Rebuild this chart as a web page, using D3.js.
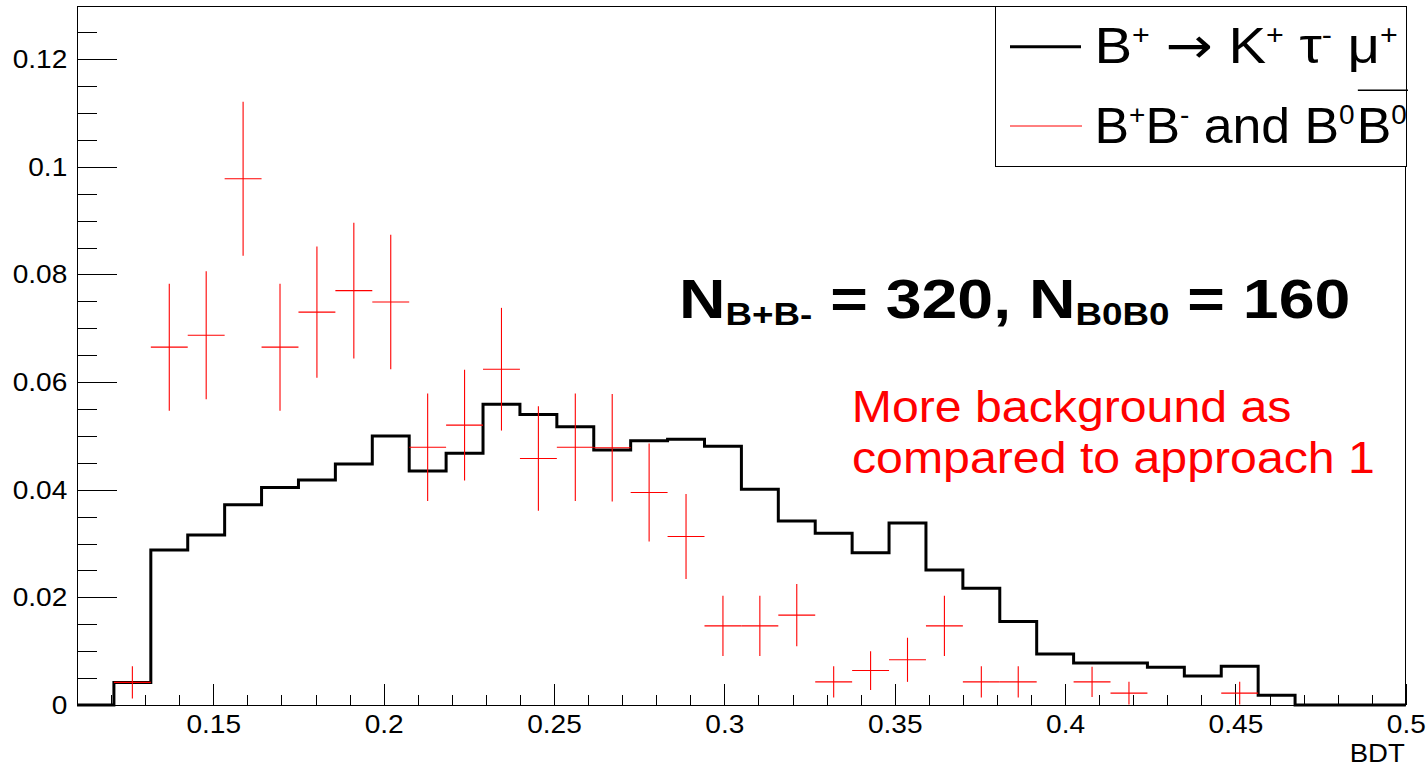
<!DOCTYPE html>
<html><head><meta charset="utf-8">
<script src="https://cdn.jsdelivr.net/npm/d3@7"></script>
<style>
html,body{margin:0;padding:0;background:#fff;}
svg{display:block;font-family:"Liberation Sans",Arial,Helvetica,sans-serif;}
</style></head><body>
<svg id="chart" width="1428" height="767"></svg>
<script>
// ---- data ----
const binLow = 0.11, binHigh = 0.5, nBins = 36;
const signalValues = [0, 0.0042, 0.0288, 0.0316, 0.0372, 0.0404, 0.0418, 0.0448, 0.0500, 0.0435,
  0.0468, 0.0559, 0.0540, 0.0517, 0.0474, 0.0491, 0.0494, 0.0481, 0.0401, 0.0342,
  0.0319, 0.0283, 0.0338, 0.0251, 0.0217, 0.0155, 0.0095, 0.0078, 0.0078, 0.0070,
  0.0054, 0.0072, 0.0018, 0, 0, 0];
const bkgValues = [null, 0.0042, 0.0665, 0.0687, 0.0978, 0.0665, 0.0730, 0.0770, 0.0749, 0.0479,
  0.0520, 0.0624, 0.0458, 0.0479, 0.0478, 0.0395, 0.0313, 0.0147, 0.0147, 0.0167,
  0.0043, 0.0064, 0.0084, 0.0147, 0.0043, 0.0043, null, 0.0043, 0.0022, null,
  null, 0.0022, null, null, null, null];
const bkgErrors = [null, 0.0030, 0.0118, 0.0119, 0.0143, 0.0118, 0.0122, 0.0126, 0.0125, 0.0100,
  0.0103, 0.0114, 0.0097, 0.0100, 0.0100, 0.0091, 0.0079, 0.0056, 0.0056, 0.0058,
  0.0029, 0.0036, 0.0041, 0.0056, 0.0029, 0.0029, null, 0.0028, 0.0021, null,
  null, 0.0021, null, null, null, null];
const xMajorTicks = [0.15, 0.2, 0.25, 0.3, 0.35, 0.4, 0.45, 0.5];
const xMajorLabels = ["0.15", "0.2", "0.25", "0.3", "0.35", "0.4", "0.45", "0.5"];
const xMinorTicks = [0.12, 0.13, 0.14, 0.16, 0.17, 0.18, 0.19, 0.21, 0.22, 0.23, 0.24, 0.26, 0.27, 0.28, 0.29,
  0.31, 0.32, 0.33, 0.34, 0.36, 0.37, 0.38, 0.39, 0.41, 0.42, 0.43, 0.44, 0.46, 0.47, 0.48, 0.49];
const yMajorTicks = [0, 0.02, 0.04, 0.06, 0.08, 0.1, 0.12];
const yMajorLabels = ["0", "0.02", "0.04", "0.06", "0.08", "0.1", "0.12"];
const yMinorTicks = [0.005, 0.01, 0.015, 0.025, 0.03, 0.035, 0.045, 0.05, 0.055, 0.065, 0.07, 0.075,
  0.085, 0.09, 0.095, 0.105, 0.11, 0.115, 0.125];
const xDomain = [0.11, 0.5];
const yDomain = [0, 0.1298];
const xTitle = "BDT";

// ---- layout ----
const L = 77, R = 1405.8, T = 6.5, B = 705;
const svg = d3.select("#chart");
svg.append("rect").attr("width", 1428).attr("height", 767).attr("fill", "#fff");

const x = d3.scaleLinear().domain(xDomain).range([L, R]);
const y = d3.scaleLinear().domain(yDomain).range([B, T]);
const edges = d3.range(nBins + 1).map(i => binLow + i * (binHigh - binLow) / nBins);

// frame
svg.append("rect").attr("x", L).attr("y", T).attr("width", R - L).attr("height", B - T)
  .attr("fill", "none").attr("stroke", "#000").attr("stroke-width", 1).attr("shape-rendering", "crispEdges");

function styleAxis(g) {
  g.select(".domain").remove();
  g.selectAll("line").attr("stroke", "#000").attr("shape-rendering", "crispEdges");
  g.selectAll("text").attr("font-family", "'Liberation Sans', Arial, sans-serif").attr("font-size", 26).attr("fill", "#000");
}
// x axis
svg.append("g").attr("transform", `translate(0,${B})`)
  .call(d3.axisBottom(x).tickValues(xMinorTicks).tickSizeInner(-10.5).tickSizeOuter(0).tickFormat(""))
  .call(styleAxis);
svg.append("g").attr("transform", `translate(0,${B})`)
  .call(d3.axisBottom(x).tickValues(xMajorTicks).tickSizeInner(-21).tickSizeOuter(0).tickPadding(10)
    .tickFormat((d, i) => xMajorLabels[i]))
  .call(styleAxis)
  .call(g => g.selectAll("text").attr("transform", "scale(1.08,1)"));
// y axis
svg.append("g").attr("transform", `translate(${L},0)`)
  .call(d3.axisLeft(y).tickValues(yMinorTicks).tickSizeInner(-20).tickSizeOuter(0).tickFormat(""))
  .call(styleAxis);
svg.append("g").attr("transform", `translate(${L},0)`)
  .call(d3.axisLeft(y).tickValues(yMajorTicks).tickSizeInner(-39.9).tickSizeOuter(0).tickPadding(9)
    .tickFormat((d, i) => yMajorLabels[i]))
  .call(styleAxis)
  .call(g => g.selectAll("text").attr("transform", "scale(1.08,1)"));

// x title
svg.append("text").attr("transform", `translate(${R - 1},761.5) scale(1.08,1)`)
  .attr("text-anchor", "end").attr("font-size", 25.5).attr("fill", "#000").text(xTitle);

// signal histogram (step line)
const histPts = signalValues.map((v, i) => [edges[i], v]);
histPts.push([edges[nBins], signalValues[nBins - 1]]);
svg.append("path")
  .attr("d", d3.line().x(d => x(d[0])).y(d => y(d[1])).curve(d3.curveStepAfter)(histPts))
  .attr("fill", "none").attr("stroke", "#000").attr("stroke-width", 3)
  .attr("stroke-linejoin", "miter").attr("stroke-linecap", "butt");

// background points with error bars
const bkg = bkgValues.map((v, i) => ({ v, e: bkgErrors[i], lo: edges[i], hi: edges[i + 1] }))
  .filter(d => d.v !== null);
const eg = svg.append("g").attr("stroke", "#ff0000").attr("stroke-width", 1.1).attr("fill", "none");
eg.selectAll("line.h").data(bkg).join("line").attr("class", "h")
  .attr("x1", d => x(d.lo)).attr("x2", d => x(d.hi))
  .attr("y1", d => y(d.v)).attr("y2", d => y(d.v));
eg.selectAll("line.v").data(bkg).join("line").attr("class", "v")
  .attr("x1", d => x((d.lo + d.hi) / 2)).attr("x2", d => x((d.lo + d.hi) / 2))
  .attr("y1", d => y(Math.max(0, d.v - d.e))).attr("y2", d => y(d.v + d.e));

// ---- helpers for rich text ----
function richText(parent, parts, size, subSize, shift) {
  const t = parent.append("text").attr("font-size", size);
  let cur = 0;
  parts.forEach(p => {
    const off = p.sup ? -shift : (p.sub ? shift : 0);
    const ts = t.append("tspan").attr("dy", off - cur).attr("font-size", (p.sup || p.sub) ? subSize : size)
      .text(p.t);
    if (p.font) ts.attr("font-family", p.font);
    if (p.dx) ts.attr("dx", p.dx);
    cur = off;
  });
  return t;
}
function fitX(sel, left, right, baseline) {
  const bb = sel.node().getBBox();
  const sx = (right - left) / bb.width;
  sel.attr("transform", `translate(${left},${baseline}) scale(${sx},1) translate(${-bb.x},0)`);
  return sx;
}

// legend
const leg = svg.append("g");
leg.append("rect").attr("x", 995).attr("y", 6.7).attr("width", 411).attr("height", 160)
  .attr("fill", "#fff").attr("stroke", "#000").attr("stroke-width", 1).attr("shape-rendering", "crispEdges");
leg.append("line").attr("x1", 1010).attr("x2", 1081).attr("y1", 46.7).attr("y2", 46.7)
  .attr("stroke", "#000").attr("stroke-width", 3);
leg.append("line").attr("x1", 1010).attr("x2", 1082).attr("y1", 126).attr("y2", 126)
  .attr("stroke", "#ff0000").attr("stroke-width", 1);

const row1 = leg.append("g");
richText(row1, [{t: "B"}, {t: "+", sup: true}, {t: " "}, {t: "→", font: "'DejaVu Sans'"}, {t: " K"},
  {t: "+", sup: true}, {t: " τ"}, {t: "-", sup: true}, {t: " μ"}, {t: "+", sup: true}], 50, 27, 19)
  .attr("fill", "#000");
fitX(row1, 1094.5, 1398, 63.3);

const row2 = leg.append("g");
const r2a = richText(row2, [{t: "B"}, {t: "+", sup: true}, {t: "B"}, {t: "-", sup: true}, {t: " and B"},
  {t: "0", sup: true}], 50, 27, 19).attr("fill", "#000");
const bbA = r2a.node().getBBox();
const xB = bbA.x + bbA.width + 2;
const r2b = richText(row2, [{t: "B"}, {t: "0", sup: true}], 50, 27, 19).attr("fill", "#000");
r2b.select("tspan").attr("x", xB);
const bbB = r2b.node().getBBox();
row2.append("line").attr("x1", bbB.x + 1).attr("x2", bbB.x + bbB.width + 1).attr("y1", -53).attr("y2", -53)
  .attr("stroke", "#000").attr("stroke-width", 1.6);
fitX(row2, 1094.5, 1408, 143.3);

// annotation (bold)
const ann = svg.append("g");
richText(ann, [{t: "N"}, {t: "B+B-", sub: true}, {t: " = 320, N"}, {t: "B0B0", sub: true}, {t: " = 160"}],
  56, 32, 7).attr("font-weight", "bold").attr("fill", "#000");
fitX(ann, 679, 1350.5, 318.3);

// red comment
const c2 = svg.append("text").attr("font-size", 45).attr("fill", "#ff0000").text("compared to approach 1");
const sx = fitX(c2, 852, 1375, 473.3);
const c1 = svg.append("text").attr("font-size", 45).attr("fill", "#ff0000").text("More background as");
const bb1 = c1.node().getBBox();
c1.attr("transform", `translate(851.7,421.7) scale(${sx},1) translate(${-bb1.x},0)`);
</script>
</body></html>
